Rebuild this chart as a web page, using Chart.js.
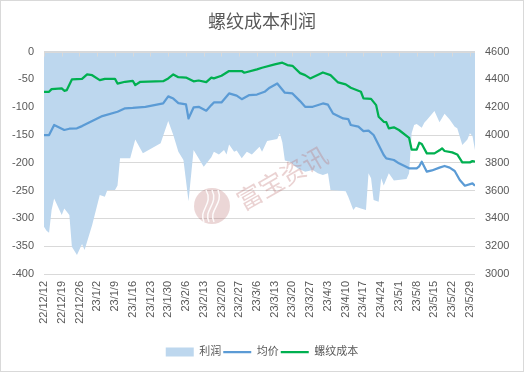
<!DOCTYPE html>
<html>
<head>
<meta charset="utf-8">
<title>螺纹成本利润</title>
<script src="https://cdn.jsdelivr.net/npm/chart.js@4"></script>
<style>
  html, body { margin: 0; padding: 0; background: #fff; }
  canvas { display: block; }
</style>
</head>
<body>
<canvas id="chart" width="524" height="372"></canvas>
<script>
// x values are days counted from 22/12/12
const tickLabels = ['22/12/12', '22/12/19', '22/12/26', '23/1/2', '23/1/9', '23/1/16', '23/1/23',
    '23/1/30', '23/2/6', '23/2/13', '23/2/20', '23/2/27', '23/3/6', '23/3/13', '23/3/20', '23/3/27',
    '23/4/3', '23/4/10', '23/4/17', '23/4/24', '23/5/1', '23/5/8', '23/5/15', '23/5/22', '23/5/29'];

const profitDay = [0, 1, 2, 3, 4, 7, 8, 10, 11, 13, 15, 16, 19, 22, 24, 25, 28, 29, 30, 34, 36, 39, 46, 49,
    51, 53, 55, 57, 59, 63, 66, 67, 69, 71, 72, 73, 75, 76, 78, 80, 82, 85, 86, 88, 92, 93, 94, 95, 97,
    100, 103, 106, 108, 110, 112, 113, 116, 119, 120, 122, 123, 125, 127, 128, 129, 130, 132, 133, 134,
    136, 138, 143, 144, 145, 146, 147, 149, 150, 151, 154, 156, 158, 160, 162, 163, 165, 167, 168, 169, 170];
const profitValue = [-315, -322, -326, -285, -264, -294, -282, -294, -351, -366, -346, -357, -312, -258,
    -261, -249, -249, -241, -192, -192, -158, -183, -165, -125, -150, -180, -195, -269, -177, -207, -190,
    -180, -185, -177, -185, -167, -180, -178, -192, -180, -185, -171, -180, -161, -157, -147, -163, -196,
    -198, -210, -216, -213, -219, -222, -219, -249, -250, -251, -261, -285, -279, -282, -285, -219, -228,
    -267, -270, -228, -241, -219, -232, -229, -219, -147, -132, -130, -137, -128, -123, -107, -127, -112,
    -122, -135, -138, -168, -158, -147, -152, -177];

const priceDay = [0, 2, 4, 8, 10, 13, 15, 19, 23, 29, 32, 35, 40, 45, 47, 49, 51, 53, 56, 57, 59, 61, 64,
    66, 67, 70, 73, 76, 78, 81, 84, 87, 89, 92, 95, 98, 101, 103, 106, 110, 112, 114, 118, 120, 121, 124,
    126, 128, 130, 132, 134, 135, 138, 140, 144, 147, 148, 149, 151, 153, 156, 158, 160, 162, 164, 166,
    169, 170];
const priceValue = [4000, 4000, 4072, 4036, 4045, 4048, 4064, 4100, 4136, 4167, 4192, 4195, 4203, 4220,
    4227, 4278, 4262, 4230, 4220, 4119, 4198, 4203, 4175, 4215, 4234, 4234, 4299, 4283, 4258, 4287, 4291,
    4311, 4340, 4371, 4304, 4299, 4244, 4203, 4203, 4227, 4218, 4155, 4119, 4115, 4072, 4060, 4028, 4032,
    4000, 3928, 3856, 3832, 3820, 3796, 3760, 3760, 3775, 3808, 3736, 3745, 3765, 3777, 3765, 3741, 3676,
    3635, 3652, 3635];

const costDay = [0, 2, 3, 7, 8, 9, 11, 15, 17, 19, 22, 24, 28, 29, 32, 35, 36, 38, 47, 49, 51, 53, 56, 59,
    61, 64, 66, 67, 70, 73, 78, 79, 84, 86, 91, 94, 96, 98, 101, 103, 105, 110, 113, 116, 119, 121, 125,
    126, 129, 131, 132, 134, 135, 136, 138, 140, 144, 145, 147, 148, 149, 151, 154, 156, 157, 158, 161,
    163, 165, 168, 169, 170];
const costValue = [4311, 4311, 4330, 4335, 4318, 4323, 4400, 4404, 4436, 4430, 4395, 4404, 4404, 4370,
    4383, 4390, 4359, 4383, 4387, 4407, 4436, 4416, 4413, 4386, 4392, 4380, 4413, 4407, 4426, 4460, 4460,
    4448, 4472, 4484, 4508, 4520, 4503, 4498, 4445, 4431, 4407, 4450, 4431, 4378, 4364, 4340, 4311, 4263,
    4260, 4215, 4131, 4095, 4092, 4048, 4055, 4036, 3980, 3895, 3895, 3944, 3935, 3868, 3868, 3890, 3904,
    3885, 3875, 3860, 3803, 3803, 3812, 3808];

function toPoints(days, values) {
    return days.map((d, i) => ({ x: d, y: values[i] }));
}

const textColor = '#595959';
const gridColor = '#d9d9d9';

Chart.defaults.font.family = "'Liberation Sans', 'Noto Sans CJK SC', sans-serif";
Chart.defaults.font.size = 11;
Chart.defaults.color = textColor;

// top tick marks, watermark and outer frame
const decorations = {
    id: 'decorations',
    beforeDraw(chart) {
        const ctx = chart.ctx;
        ctx.save();
        ctx.fillStyle = '#fff';
        ctx.fillRect(0, 0, chart.width, chart.height);
        ctx.restore();
    },
    afterDatasetsDraw(chart) {
        const { ctx, chartArea } = chart;
        const xs = chart.scales.x;
        ctx.save();
        ctx.strokeStyle = gridColor;
        ctx.lineWidth = 1;
        ctx.beginPath();
        ctx.moveTo(chartArea.left, Math.round(chartArea.top) + 0.5);
        ctx.lineTo(chartArea.right, Math.round(chartArea.top) + 0.5);
        xs.ticks.forEach(t => {
            const px = Math.round(xs.getPixelForValue(t.value)) + 0.5;
            ctx.moveTo(px, chartArea.top);
            ctx.lineTo(px, chartArea.top + 5);
        });
        ctx.stroke();

        // watermark
        ctx.globalAlpha = 0.28;
        ctx.fillStyle = '#b86a6a';
        ctx.beginPath();
        ctx.arc(212, 206, 18, 0, Math.PI * 2);
        ctx.fill();
        ctx.globalAlpha = 0.9;
        ctx.strokeStyle = '#fff';
        ctx.lineWidth = 1.5;
        for (let k = 0; k < 3; k++) {
            ctx.beginPath();
            ctx.moveTo(204 + k * 5, 222);
            ctx.bezierCurveTo(198 + k * 5, 210, 214 + k * 5, 204, 206 + k * 6, 190);
            ctx.stroke();
        }
        ctx.globalAlpha = 0.3;
        ctx.fillStyle = '#b86a6a';
        ctx.translate(282, 178);
        ctx.rotate(-30 * Math.PI / 180);
        ctx.font = "25px 'Noto Sans CJK SC'";
        ctx.textAlign = 'center';
        ctx.textBaseline = 'middle';
        ctx.fillText('富宝资讯', 0, 0);
        ctx.restore();
    },
    afterDraw(chart) {
        const ctx = chart.ctx;
        ctx.save();
        ctx.strokeStyle = gridColor;
        ctx.lineWidth = 1;
        ctx.strokeRect(0.5, 0.5, chart.width - 1, chart.height - 1);
        ctx.restore();
    }
};

new Chart(document.getElementById('chart'), {
    type: 'line',
    data: {
        datasets: [{
            label: '利润',
            data: toPoints(profitDay, profitValue),
            yAxisID: 'y',
            fill: 'origin',
            backgroundColor: '#bdd7ee',
            borderColor: '#bdd7ee',
            borderWidth: 0,
            pointRadius: 0,
            pointStyle: 'rect',
            order: 3
        }, {
            label: '均价',
            data: toPoints(priceDay, priceValue),
            yAxisID: 'y1',
            fill: false,
            borderColor: '#5b9bd5',
            backgroundColor: '#5b9bd5',
            borderWidth: 2.25,
            pointRadius: 0,
            pointStyle: 'line',
            order: 2
        }, {
            label: '螺纹成本',
            data: toPoints(costDay, costValue),
            yAxisID: 'y1',
            fill: false,
            borderColor: '#00b050',
            backgroundColor: '#00b050',
            borderWidth: 2.25,
            pointRadius: 0,
            pointStyle: 'line',
            order: 1
        }]
    },
    options: {
        responsive: false,
        animation: false,
        layout: {
            padding: { left: 0, right: 0, top: 0, bottom: 4.5 }
        },
        elements: {
            line: { tension: 0, borderJoinStyle: 'round' }
        },
        plugins: {
            title: {
                display: true,
                text: '螺纹成本利润',
                color: textColor,
                font: { family: "'Noto Sans CJK SC', sans-serif", size: 18, weight: 'normal' },
                padding: { top: 10, bottom: 20 }
            },
            legend: {
                position: 'bottom',
                labels: {
                    usePointStyle: true,
                    pointStyleWidth: 28,
                    boxHeight: 9,
                    padding: 2,
                    color: textColor,
                    font: { size: 11 },
                    sort: (a, b) => a.datasetIndex - b.datasetIndex
                }
            },
            tooltip: { enabled: false }
        },
        scales: {
            x: {
                type: 'linear',
                min: 0,
                max: 170,
                afterBuildTicks: scale => {
                    scale.ticks = tickLabels.map((_, i) => ({ value: i * 7 }));
                },
                afterFit: scale => { scale.height = 70.5; },
                grid: { display: false, drawTicks: false },
                border: { display: false },
                ticks: {
                    autoSkip: false,
                    minRotation: 90,
                    maxRotation: 90,
                    padding: 7,
                    color: textColor,
                    callback: value => tickLabels[Math.round(value / 7)]
                }
            },
            y: {
                position: 'left',
                min: -400,
                max: 0,
                afterFit: scale => { scale.width = 44; },
                grid: { color: gridColor, drawTicks: false },
                border: { display: false },
                ticks: { stepSize: 50, padding: 10, color: textColor }
            },
            y1: {
                position: 'right',
                min: 3000,
                max: 4600,
                afterFit: scale => { scale.width = 49; },
                grid: { display: false, drawTicks: false },
                border: { display: false },
                ticks: { stepSize: 200, padding: 10, color: textColor, callback: v => String(v) }
            }
        }
    },
    plugins: [decorations]
});
</script>
</body>
</html>
